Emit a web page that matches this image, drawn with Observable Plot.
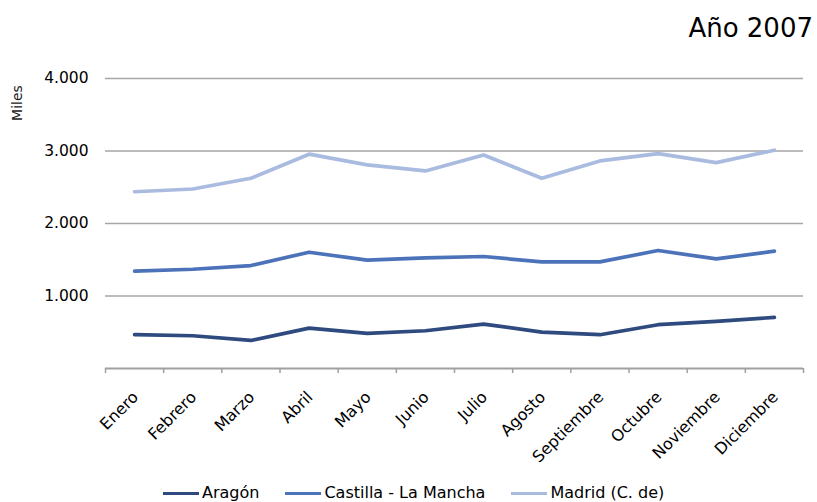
<!DOCTYPE html>
<html><head><meta charset="utf-8">
<script src="https://cdn.jsdelivr.net/npm/d3@7"></script>
<script src="https://cdn.jsdelivr.net/npm/@observablehq/plot@0.6"></script>
<style>
body{margin:0;background:#fff;font-family:"DejaVu Sans",sans-serif;color:#000;}
#wrap{position:relative;width:817px;height:502px;overflow:hidden;background:#fff}
#title{position:absolute;right:4px;top:13px;font-size:26px;line-height:30px;white-space:nowrap}
#ylab{position:absolute;left:17px;top:103px;font-size:14px;line-height:14px;transform:translate(-50%,-50%) rotate(-90deg);white-space:nowrap;color:#222}
#chart{position:absolute;left:0;top:0}
#legend{position:absolute;left:163px;top:484px;height:18px;display:flex;align-items:center;font-size:16px;line-height:18px;white-space:nowrap}
#legend .item{display:flex;align-items:center;margin-right:26px}
#legend .sw{width:36px;height:3px;margin-right:3px}
</style></head>
<body>
<div id="wrap">
  <div id="chart"></div>
  <div id="title">Año 2007</div>
  <div id="ylab">Miles</div>
  <div id="legend"></div>
</div>
<script>
const months = ["Enero","Febrero","Marzo","Abril","Mayo","Junio","Julio","Agosto","Septiembre","Octubre","Noviembre","Diciembre"];
const seriesNames = ["Aragón","Castilla - La Mancha","Madrid (C. de)"];
const seriesColors = ["#2E4A7F","#4C72B9","#A9BBDF"];
const aragon   = [466, 452, 387, 557, 484, 521, 613, 502, 466, 604, 650, 705];
const castilla = [1342, 1369, 1420, 1604, 1494, 1526, 1545, 1470, 1470, 1628, 1512, 1618];
const madrid   = [2438, 2476, 2624, 2956, 2808, 2725, 2946, 2624, 2863, 2964, 2840, 3011];
const yTicks = [1000, 2000, 3000, 4000];

const data = [];
[aragon, castilla, madrid].forEach((vals, s) =>
  vals.forEach((v, i) => data.push({serie: seriesNames[s], i, value: v})));

const fmt = d => d3.format(",")(d).replace(/,/g, ".");
const idx = d3.range(months.length);
const bounds = d3.range(-0.5, months.length, 1);

const chart = Plot.plot({
  width: 817, height: 470,
  marginTop: 78, marginBottom: 102, marginLeft: 105, marginRight: 14,
  style: {fontFamily: "DejaVu Sans", fontSize: "16px", color: "#000", background: "#fff"},
  x: {domain: [-0.5, months.length - 0.5]},
  y: {domain: [0, 4000]},
  color: {domain: seriesNames, range: seriesColors},
  marks: [
    Plot.ruleY(yTicks, {stroke: "#a6a6a6", strokeWidth: 1.3}),
    Plot.ruleY([0], {stroke: "#a0a0a0", strokeWidth: 1.8}),
    Plot.axisX(bounds, {tickSize: 5, tickFormat: () => "", stroke: "#a0a0a0", strokeWidth: 1.5, label: null}),
    Plot.axisX(idx, {tickSize: 0, tickFormat: i => months[i], tickRotate: -45, tickPadding: 10, dy: 16, dx: 1, fontSize: 16, fill: "#000", label: null}),
    Plot.axisY(yTicks, {tickSize: 0, tickPadding: 17, tickFormat: fmt, fontSize: 15.5, fill: "#000", label: null}),
    Plot.line(data, {x: "i", y: "value", z: "serie", stroke: "serie", strokeWidth: 3.7, strokeLinejoin: "round", strokeLinecap: "round"})
  ]
});
document.getElementById("chart").appendChild(chart);

const legend = document.getElementById("legend");
seriesNames.forEach((n, k) => {
  const it = document.createElement("div");
  it.className = "item";
  const sw = document.createElement("span");
  sw.className = "sw";
  sw.style.background = seriesColors[k];
  const tx = document.createElement("span");
  tx.textContent = n;
  it.appendChild(sw); it.appendChild(tx);
  legend.appendChild(it);
});
</script>
</body></html>
